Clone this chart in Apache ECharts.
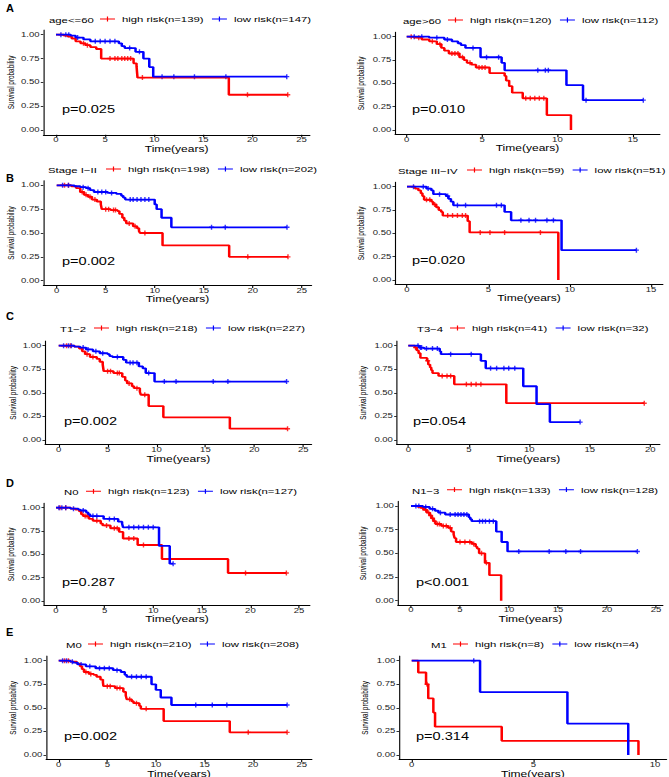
<!DOCTYPE html>
<html>
<head>
<meta charset="utf-8">
<script src="https://cdn.jsdelivr.net/npm/echarts@6/dist/echarts.min.js"></script>
<style>
  html, body { margin: 0; padding: 0; background: #fff; overflow: hidden; }
  #wrap { width: 669px; height: 777px; overflow: hidden; }
  /* the figure is drawn narrow and stretched sideways, like the printed one */
  #main { width: 477.86px; height: 777px; transform: scaleX(1.4); transform-origin: 0 0; }
</style>
</head>
<body>
<div id="wrap"><div id="main"></div></div>
<script>
// KM steps: [time, survival after that time]
const agele60High = [[0,1],[0.8,0.99],[1.2,0.98],[1.6,0.96],[2.0,0.93],[2.5,0.91],[3.0,0.89],[3.5,0.87],[4.1,0.85],[4.6,0.75],[7.9,0.70],[8.2,0.67],[8.3,0.55],[17.6,0.37],[23.6,0.37]]
const agele60Low = [[0,1],[1.5,0.99],[2.0,0.97],[2.8,0.95],[3.5,0.93],[6.4,0.91],[6.7,0.88],[7.0,0.86],[8.1,0.82],[8.9,0.75],[9.5,0.66],[9.9,0.56],[23.5,0.56]]
const agele60HighCens = [2.8,3.2,5.5,6.0,6.3,6.7,7.0,7.3,7.6,8.8,19.5,23.6]
const agele60LowCens = [0.5,1.0,1.3,2.2,4.0,4.5,5.0,5.5,6.0,7.5,8.5,10.8,12.0,14.1,17.3,23.5]

const agegt60High = [[0,1],[0.5,0.99],[1.0,0.97],[1.5,0.95],[2.0,0.92],[2.3,0.88],[2.5,0.85],[2.8,0.82],[3.5,0.78],[3.8,0.75],[4.0,0.72],[4.3,0.70],[4.6,0.67],[5.5,0.61],[6.5,0.58],[6.6,0.53],[6.8,0.47],[7.0,0.40],[7.7,0.34],[9.3,0.16],[10.9,0]]
const agegt60Low = [[0,1],[1.5,0.99],[2.5,0.97],[3.0,0.95],[3.4,0.93],[3.6,0.91],[3.9,0.88],[4.9,0.78],[6.3,0.72],[6.5,0.64],[10.6,0.48],[11.7,0.32],[15.7,0.32]]
const agegt60HighCens = [0.3,0.8,1.7,2.2,3.0,3.2,3.4,3.7,4.2,4.8,5.0,5.2,7.9,8.2,8.5,8.8,9.1]
const agegt60LowCens = [0.5,1.0,2.0,2.7,4.4,5.3,6.1,8.7,9.2,9.4,11.9,15.7]

const stage12High = [[0,1],[1.5,0.99],[2.0,0.97],[2.4,0.93],[2.8,0.90],[3.2,0.88],[3.6,0.85],[4.1,0.83],[4.5,0.80],[4.6,0.75],[5.5,0.74],[6.2,0.73],[6.4,0.70],[6.7,0.66],[6.9,0.63],[7.1,0.60],[7.8,0.57],[8.2,0.55],[8.4,0.52],[8.5,0.50],[10.8,0.37],[17.6,0.25],[23.6,0.25]]
const stage12Low = [[0,1],[1.8,0.99],[2.4,0.98],[3.0,0.97],[3.4,0.95],[3.8,0.93],[5.2,0.92],[6.1,0.91],[6.6,0.89],[6.8,0.87],[7.0,0.85],[10.0,0.80],[10.2,0.75],[10.7,0.66],[11.7,0.56],[23.5,0.56]]
const stage12HighCens = [0.8,1.2,2.6,3.0,3.4,3.9,5.0,5.3,5.8,6.0,7.4,8.0,9.0,19.5,23.6]
const stage12LowCens = [0.6,1.2,2.7,3.2,4.2,4.6,5.0,5.6,7.5,7.8,8.2,8.6,9.0,9.4,15.8,17.2,23.5]

const stage34High = [[0,1],[0.5,0.98],[0.7,0.96],[0.85,0.93],[0.95,0.90],[1.05,0.86],[1.5,0.84],[1.6,0.81],[1.8,0.78],[1.95,0.75],[2.1,0.73],[2.2,0.69],[3.73,0.63],[3.85,0.51],[9.3,0]]
const stage34Low = [[0,1],[1.2,0.98],[1.5,0.96],[1.62,0.92],[2.4,0.90],[2.55,0.87],[2.7,0.84],[2.85,0.80],[6.0,0.73],[6.4,0.64],[9.5,0.32],[14.1,0.32]]
const stage34HighCens = [1.2,1.4,1.7,2.5,2.8,3.1,3.4,3.6,4.5,5.1,6.0,8.2]
const stage34LowCens = [0.4,1.0,1.3,2.0,2.5,3.1,3.6,5.5,5.8,7.0,7.5,7.9,8.6,9.0,14.1]

const t12High = [[0,1],[1.6,0.99],[2.1,0.97],[2.4,0.94],[2.7,0.91],[3.2,0.88],[3.9,0.86],[4.2,0.83],[4.5,0.80],[4.6,0.73],[5.6,0.71],[6.5,0.67],[6.8,0.63],[7.0,0.60],[7.5,0.57],[7.7,0.55],[8.3,0.51],[8.4,0.48],[9.2,0.36],[10.7,0.24],[17.5,0.12],[23.4,0.12]]
const t12Low = [[0,1],[1.6,0.99],[2.2,0.98],[2.8,0.96],[3.5,0.94],[4.2,0.92],[5.0,0.91],[5.2,0.89],[5.5,0.88],[6.6,0.85],[6.9,0.82],[8.2,0.78],[8.6,0.76],[8.9,0.71],[9.8,0.62],[23.3,0.62]]
const t12HighCens = [0.8,1.2,2.9,3.5,5.0,5.3,6.0,6.2,7.2,8.0,8.8,23.4]
const t12LowCens = [0.5,1.0,1.3,2.5,3.0,3.8,4.5,6.0,7.3,7.6,8.0,9.2,10.8,12.0,15.8,17.3,23.3]

const t34High = [[0,1],[0.55,0.98],[0.7,0.95],[0.85,0.92],[1.0,0.87],[1.55,0.84],[1.65,0.80],[1.8,0.77],[1.9,0.74],[2.0,0.71],[2.5,0.68],[3.8,0.59],[8.1,0.39],[19.5,0.39]]
const t34Low = [[0,1],[0.9,0.98],[1.3,0.97],[2.6,0.94],[2.7,0.91],[6.0,0.84],[6.4,0.76],[9.5,0.57],[10.6,0.38],[11.7,0.19],[14.2,0.19]]
const t34HighCens = [0.6,1.6,2.8,3.2,3.5,4.8,5.2,5.6,6.0,19.5]
const t34LowCens = [0.8,1.0,1.1,1.5,2.0,2.4,3.5,5.2,6.8,7.3,7.9,8.3,8.8,14.2]

const n0High = [[0,1],[1.5,0.99],[2.0,0.98],[2.4,0.96],[2.6,0.93],[2.8,0.91],[3.4,0.88],[3.8,0.86],[4.6,0.83],[4.8,0.81],[5.6,0.78],[6.5,0.74],[6.9,0.67],[8.4,0.60],[10.9,0.45],[17.7,0.30],[23.7,0.30]]
const n0Low = [[0,1],[1.5,0.99],[2.3,0.98],[2.5,0.97],[3.1,0.95],[3.3,0.93],[3.5,0.91],[4.9,0.88],[6.4,0.85],[6.8,0.83],[6.9,0.79],[10.6,0.59],[11.7,0.40],[12.05,0.40]]
const n0HighCens = [0.4,1.0,3.0,3.2,4.2,5.2,6.0,6.3,7.5,8.0,9.0,19.5,23.7]
const n0LowCens = [0.3,0.6,1.0,1.8,2.8,3.8,4.2,5.5,6.0,7.5,8.0,8.5,9.0,9.5,10.0,12.05]

const n13High = [[0,1],[0.7,0.99],[1.0,0.98],[1.3,0.96],[1.6,0.93],[1.9,0.90],[2.1,0.87],[2.3,0.84],[2.5,0.81],[3.1,0.79],[3.8,0.77],[4.1,0.73],[4.35,0.70],[4.45,0.66],[4.6,0.62],[6.2,0.60],[6.6,0.57],[6.75,0.55],[6.95,0.50],[7.55,0.40],[8.0,0.27],[9.2,0]]
const n13Low = [[0,1],[1.2,0.99],[1.9,0.97],[2.45,0.95],[2.8,0.93],[3.5,0.91],[5.9,0.88],[6.05,0.86],[6.2,0.84],[8.7,0.73],[9.25,0.62],[9.85,0.52],[23.1,0.52]]
const n13HighCens = [1.2,1.5,1.8,2.0,2.2,2.4,2.7,2.9,3.3,3.6,4.0,5.0,5.5,6.0,6.4,7.2,7.7]
const n13LowCens = [0.5,0.8,1.5,2.2,3.0,4.0,4.5,4.8,5.1,5.4,5.7,7.0,7.3,7.6,8.0,8.4,11.0,14.1,15.8,17.3,23.1]

const m0High = [[0,1],[1.2,0.99],[1.85,0.97],[2.2,0.94],[2.4,0.91],[2.6,0.88],[3.1,0.86],[3.6,0.85],[3.9,0.83],[4.3,0.80],[4.55,0.77],[4.6,0.73],[5.8,0.71],[6.65,0.67],[6.9,0.63],[7.0,0.59],[7.5,0.57],[7.7,0.55],[8.3,0.52],[8.45,0.49],[10.8,0.36],[17.6,0.24],[23.5,0.24]]
const m0Low = [[0,1],[1.2,0.99],[1.5,0.98],[1.95,0.96],[2.8,0.94],[3.8,0.92],[5.6,0.90],[6.4,0.88],[6.8,0.85],[7.0,0.83],[9.55,0.75],[10.0,0.69],[10.5,0.61],[11.6,0.53],[23.5,0.53]]
const m0HighCens = [0.6,1.0,2.8,3.3,5.0,5.3,6.0,6.3,7.3,8.0,9.0,19.5,23.5]
const m0LowCens = [0.4,0.8,1.4,2.3,3.2,4.2,4.7,5.2,6.0,7.5,8.0,8.5,9.0,14.1,15.8,17.3,23.5]

const m1High = [[0,1],[0.27,0.875],[0.59,0.75],[0.68,0.60],[0.89,0.45],[0.96,0.30],[3.7,0.15],[9.32,0]]
const m1Low = [[0,1],[2.81,0.667],[6.4,0.333],[8.9,0]]
const m1HighCens = [0.63]
const m1LowCens = [2.55]

const strataLabels = ['age<=60', 'age>60', 'Stage I\u2212II', 'Stage III\u2212IV', 'T1\u22122', 'T3\u22124', 'N0', 'N1\u22123', 'M0', 'M1']
const highLabels = ['high risk(n=139)', 'high risk(n=120)', 'high risk(n=198)', 'high risk(n=59)', 'high risk(n=218)', 'high risk(n=41)', 'high risk(n=123)', 'high risk(n=133)', 'high risk(n=210)', 'high risk(n=8)']
const lowLabels = ['low risk(n=147)', 'low risk(n=112)', 'low risk(n=202)', 'low risk(n=51)', 'low risk(n=227)', 'low risk(n=32)', 'low risk(n=127)', 'low risk(n=128)', 'low risk(n=208)', 'low risk(n=4)']
const pValues = ['p=0.025', 'p=0.010', 'p=0.002', 'p=0.020', 'p=0.002', 'p=0.054', 'p=0.287', 'p<0.001', 'p=0.002', 'p=0.314']
const yTicks = [0, 0.25, 0.5, 0.75, 1]
const xTicks25 = [0, 5, 10, 15, 20, 25]
const xTicks20 = [0, 5, 10, 15, 20]
const xTicks15 = [0, 5, 10, 15]
const xTicks10 = [0, 5, 10]

const S = 1.4
const FONT = "'Liberation Sans', Arial, Helvetica, sans-serif"
const RED = '#FF0000'
const BLUE = '#0000FF'
const PLUS = 'path://M0,3.6H10V6.4H0Z M3.6,0H6.4V10H3.6Z'
const LEGEND_ICON = 'path://M0,4.2H20V5.8H0Z M9.2,0.5H10.8V9.5H9.2Z'

// box: [px of t=0, px per year, axis left px, axis right px, px of 1.00, px of 0.00]
const panels = [
  {hi: agele60High, lo: agele60Low, hiC: agele60HighCens, loC: agele60LowCens, ticks: xTicks25,
    box: [56, 9.82, 43.3, 310, 34.7, 130], strata: [49, 20], legendX: 100, p: [62, 110], yName: 10, letter: ['A', 6, 8]},
  {hi: agegt60High, lo: agegt60Low, hiC: agegt60HighCens, loC: agegt60LowCens, ticks: xTicks15,
    box: [406.7, 15.07, 395, 660, 36.7, 130], strata: [403, 21], legendX: 448, p: [412, 110], yName: 360},
  {hi: stage12High, lo: stage12Low, hiC: stage12HighCens, loC: stage12LowCens, ticks: xTicks25,
    box: [56.7, 9.8, 43.3, 311.7, 185.3, 280.7], strata: [48, 170], legendX: 106, p: [62, 262], yName: 10, letter: ['B', 6, 178]},
  {hi: stage34High, lo: stage34Low, hiC: stage34HighCens, loC: stage34LowCens, ticks: xTicks15,
    box: [407, 16.27, 395, 663, 186.7, 280], strata: [398, 171], legendX: 467, p: [412, 261], yName: 360},
  {hi: t12High, lo: t12Low, hiC: t12HighCens, loC: t12LowCens, ticks: xTicks25,
    box: [58.7, 9.78, 45, 311.7, 345.7, 440], strata: [60, 329], legendX: 94, p: [64, 421.7], yName: 12, letter: ['C', 6, 315.7]},
  {hi: t34High, lo: t34Low, hiC: t34HighCens, loC: t34LowCens, ticks: xTicks20,
    box: [408.3, 12.1, 396.7, 660, 345.7, 440], strata: [417, 329], legendX: 450, p: [413, 421.7], yName: 362},
  {hi: n0High, lo: n0Low, hiC: n0HighCens, loC: n0LowCens, ticks: xTicks25,
    box: [56, 9.72, 44, 310, 507.7, 601], strata: [64, 492.3], legendX: 86, p: [62, 582.3], yName: 10, letter: ['D', 6, 482.7]},
  {hi: n13High, lo: n13Low, hiC: n13HighCens, loC: n13LowCens, ticks: xTicks25,
    box: [411, 9.8, 397.7, 663, 506, 600.7], strata: [412, 490.7], legendX: 447, p: [416, 582.3], yName: 362},
  {hi: m0High, lo: m0Low, hiC: m0HighCens, loC: m0LowCens, ticks: xTicks25,
    box: [58.7, 9.72, 46, 312, 660.7, 755], strata: [66, 645], legendX: 88, p: [64, 736.7], yName: 12, letter: ['E', 6, 631.7]},
  {hi: m1High, lo: m1Low, hiC: m1HighCens, loC: m1LowCens, ticks: xTicks10,
    box: [411.7, 24.33, 399, 666.7, 660.7, 755], strata: [431, 645], legendX: 453, p: [416, 736.7], yName: 364}
]

// survival value of a step curve at time t (censor marks sit on the curve)
function survAt(curve, t) {
  let s = curve[0][1]
  for (const pt of curve) {
    if (pt[0] <= t) s = pt[1]
  }
  return s
}

const grid = [], xAxis = [], yAxis = [], series = [], legend = [], graphic = []

panels.forEach((pn, i) => {
  const [x0, ppu, l, r, y1, y0] = pn.box
  const unit = y0 - y1
  grid.push({
    left: l / S, width: (r - l) / S,
    top: y1 - 0.05 * unit, height: 1.1 * unit,
    containLabel: false, outerBoundsMode: 'none'
  })
  xAxis.push({
    gridIndex: i, type: 'value',
    min: (l - x0) / ppu, max: (r - x0) / ppu,
    axisLine: {onZero: false, lineStyle: {color: '#000', width: 0.8}},
    axisTick: {customValues: pn.ticks, length: 2.5, lineStyle: {color: '#000', width: 0.8}},
    axisLabel: {customValues: pn.ticks, margin: 1.5, fontSize: 6.8, color: '#222', fontFamily: FONT},
    splitLine: {show: false},
    name: 'Time(years)', nameLocation: 'middle', nameGap: 3.8,
    nameTextStyle: {fontSize: 8.6, fontWeight: 'normal', color: '#000', fontFamily: FONT}
  })
  yAxis.push({
    gridIndex: i, type: 'value', min: -0.05, max: 1.05,
    axisLine: {onZero: false, lineStyle: {color: '#000', width: 0.8}},
    axisTick: {customValues: yTicks, length: 1.8, lineStyle: {color: '#000', width: 0.8}},
    axisLabel: {customValues: yTicks, margin: 2.7, fontSize: 6.8, color: '#222', fontFamily: FONT,
      formatter: v => v.toFixed(2)},
    splitLine: {show: false},
    name: 'Survival probability', nameLocation: 'middle',
    nameGap: (l - pn.yName) / S - 3.5,
    nameTextStyle: {fontSize: 6.4, fontWeight: 'normal', color: '#000', fontFamily: FONT}
  })

  const groups = [
    {name: highLabels[i], curve: pn.hi, cens: pn.hiC, color: RED},
    {name: lowLabels[i], curve: pn.lo, cens: pn.loC, color: BLUE}
  ]
  groups.forEach(g => {
    series.push({
      type: 'line', name: g.name, xAxisIndex: i, yAxisIndex: i,
      data: g.curve, step: 'end', symbol: 'none', showSymbol: false,
      lineStyle: {color: g.color, width: 1.8}, itemStyle: {color: g.color}
    })
    series.push({
      type: 'scatter', name: g.name, xAxisIndex: i, yAxisIndex: i,
      data: g.cens.map(t => [t, survAt(g.curve, t)]),
      symbol: PLUS, symbolSize: [3.6, 5], itemStyle: {color: g.color}
    })
  })

  legend.push({
    data: [
      {name: highLabels[i], itemStyle: {color: RED}},
      {name: lowLabels[i], itemStyle: {color: BLUE}}
    ],
    left: pn.legendX / S, top: pn.strata[1] - 5,
    orient: 'horizontal', padding: 0, itemGap: 6,
    itemWidth: 10.7, itemHeight: 6, icon: LEGEND_ICON, selectedMode: false,
    textStyle: {fontSize: 8.1, color: '#000', fontFamily: FONT}
  })

  graphic.push({
    type: 'text', x: pn.strata[0] / S, y: pn.strata[1],
    style: {text: strataLabels[i], fontSize: 8.1, fontFamily: FONT, fill: '#000', verticalAlign: 'middle'}
  })
  graphic.push({
    type: 'text', x: pn.p[0] / S, y: pn.p[1],
    style: {text: pValues[i], fontSize: 10.4, fontFamily: FONT, fill: '#000', verticalAlign: 'middle'}
  })
  if (pn.letter) {
    graphic.push({
      type: 'text', x: pn.letter[1] / S, y: pn.letter[2], scaleX: 1 / S,
      style: {text: pn.letter[0], fontSize: 11, fontWeight: 'bold', fontFamily: FONT, fill: '#000', verticalAlign: 'middle'}
    })
  }
})

const chart = echarts.init(document.getElementById('main'), null, {renderer: 'svg'})
chart.setOption({
  animation: false,
  backgroundColor: '#fff',
  grid, xAxis, yAxis, series, legend, graphic
})
</script>
</body>
</html>
